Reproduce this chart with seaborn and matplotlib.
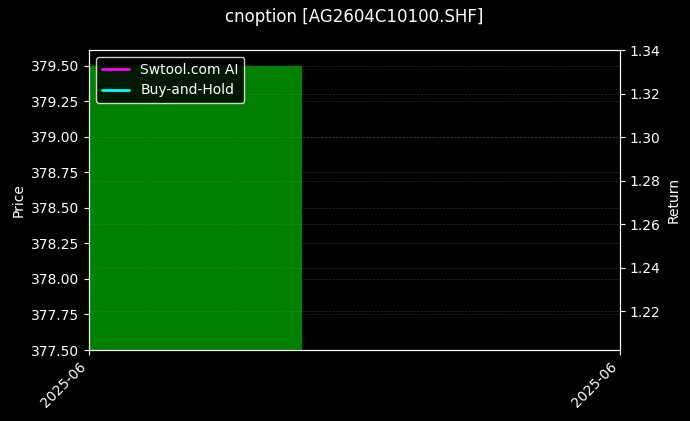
import numpy as np
import pandas as pd
import matplotlib
matplotlib.use("Agg")
import matplotlib.pyplot as plt
import matplotlib.dates as mdates
import seaborn as sns


# one trading day in the window
dates = pd.to_datetime(["2025-06-20"])
open_price = [377.5]
close_price = [379.5]
strategy_return = [1.3335]
hold_return = [1.2084]

TITLE = "cnoption [AG2604C10100.SHF]"


def make_chart():
    sns.set_style("dark")
    plt.rcParams.update({
        "figure.facecolor": "black",
        "axes.facecolor": "black",
        "axes.edgecolor": "white",
        "axes.labelcolor": "white",
        "xtick.color": "white",
        "ytick.color": "white",
        "text.color": "white",
        "xtick.bottom": True,
        "ytick.left": True,
    })
    plt.rcParams["font.family"] = ["DejaVu Sans"]

    fig, ax = plt.subplots(figsize=(6.9, 4.21), dpi=100)
    fig.subplots_adjust(left=0.129, right=0.8986, top=0.8812, bottom=0.1686)

    x = mdates.date2num(dates)
    body = np.array(close_price) - np.array(open_price)
    ax.bar(x, body, bottom=open_price, width=0.8, align="edge",
           color="green", edgecolor="green")

    ax.set_ylim(377.5, 379.61)
    ax.set_yticks([377.5, 377.75, 378.0, 378.25, 378.5, 378.75, 379.0, 379.25, 379.5])
    ax.yaxis.set_major_formatter(matplotlib.ticker.FormatStrFormatter("%.2f"))
    ax.set_ylabel("Price")
    ax.grid(True, axis="y", color="grey", linestyle="--", linewidth=0.5, alpha=0.35)
    ax.grid(False, axis="x")

    ax2 = ax.twinx()
    sns.lineplot(x=x, y=strategy_return, ax=ax2, color="#ff00ff",
                 linewidth=2, label="Swtool.com AI", legend=False)
    sns.lineplot(x=x, y=hold_return, ax=ax2, color="#00ffff",
                 linewidth=2, label="Buy-and-Hold", legend=False)
    ax2.set_ylim(1.2021, 1.34)
    ax2.set_yticks([1.22, 1.24, 1.26, 1.28, 1.30, 1.32, 1.34])
    ax2.yaxis.set_major_formatter(matplotlib.ticker.FormatStrFormatter("%.2f"))
    ax2.set_ylabel("Return")
    ax2.grid(True, axis="y", color="grey", linestyle="--", linewidth=0.5, alpha=0.35)
    ax2.grid(False, axis="x")
    ax2.tick_params(axis="y", right=True, colors="white")
    for sp in ax2.spines.values():
        sp.set_color("white")

    ax.set_xlim(x[0], x[0] + 2)
    ax.set_xticks([x[0], x[0] + 2])
    ax.xaxis.set_major_formatter(mdates.DateFormatter("%Y-%m"))
    plt.setp(ax.get_xticklabels(), rotation=45, ha="right")

    handles, labels = ax2.get_legend_handles_labels()
    ax2.legend(handles, labels, loc="upper left", facecolor="black",
               edgecolor="white", framealpha=0.8, labelcolor="white")

    ax2.set_title(TITLE, color="white", fontsize=12, pad=20)

    fig.savefig("out.png", dpi=100, facecolor="black")
    plt.close(fig)


if __name__ == "__main__":
    make_chart()
